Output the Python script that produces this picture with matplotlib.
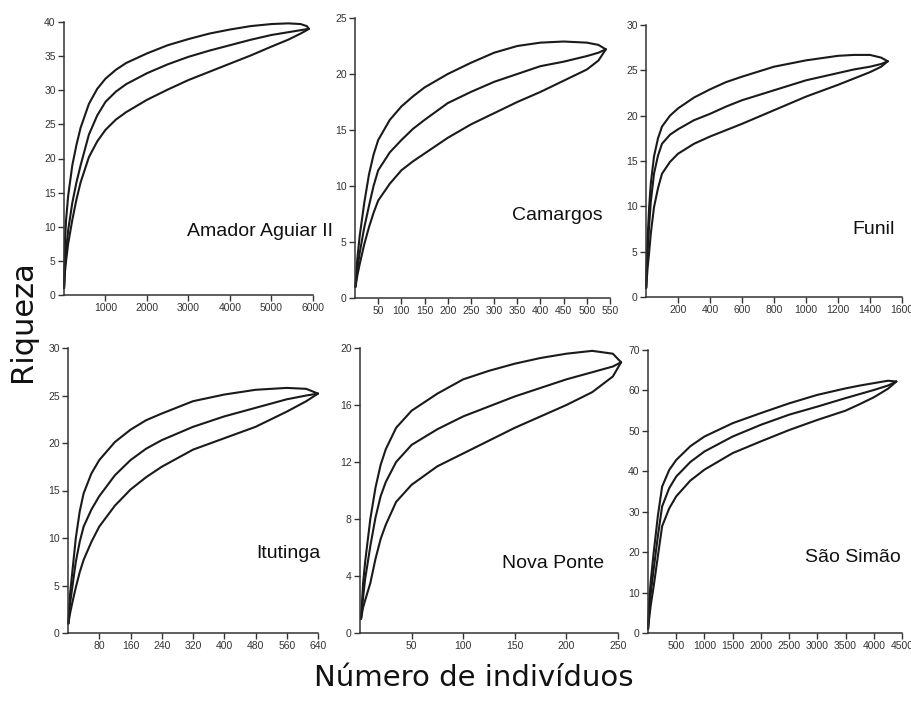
import matplotlib
matplotlib.use("Agg")
import matplotlib.pyplot as plt
from matplotlib import font_manager

# ---------------- data ----------------
names = ["Amador Aguiar II", "Camargos", "Funil", "Itutinga", "Nova Ponte", "São Simão"]

# Amador Aguiar II
aa_x = [1, 25, 50, 100, 200, 300, 400, 600, 800, 1000, 1250, 1500, 2000, 2500,
        3000, 3500, 4000, 4500, 5000, 5400, 5700, 5850, 5900]
aa_upper = [1, 8, 11, 14.5, 19, 22, 24.5, 28, 30.2, 31.7, 33.0, 34.0, 35.4, 36.6,
            37.5, 38.3, 38.9, 39.4, 39.7, 39.8, 39.7, 39.4, 39.0]
aa_mean = [1, 4.5, 6.5, 9.5, 13.5, 16.5, 19, 23.5, 26.3, 28.3, 29.8, 30.9, 32.5, 33.8,
           34.9, 35.8, 36.6, 37.4, 38.1, 38.5, 38.8, 38.95, 39.0]
aa_lower = [1, 3.5, 5, 7.5, 11, 14, 16.5, 20.2, 22.5, 24.2, 25.7, 26.8, 28.6, 30.1,
            31.5, 32.7, 33.9, 35.1, 36.4, 37.4, 38.3, 38.8, 39.0]

# Camargos
ca_x = [1, 5, 10, 20, 30, 40, 50, 75, 100, 125, 150, 200, 250, 300, 350, 400,
        450, 500, 525, 541]
ca_upper = [1, 3.5, 5.5, 8.5, 11, 12.8, 14.1, 15.9, 17.1, 18.0, 18.8, 20.0, 21.0,
            21.9, 22.5, 22.8, 22.9, 22.8, 22.6, 22.2]
ca_mean = [1, 2.5, 4, 6.3, 8.2, 10, 11.4, 13, 14.1, 15.1, 15.9, 17.4, 18.4, 19.3,
           20.0, 20.7, 21.1, 21.6, 21.9, 22.2]
ca_lower = [1, 2, 3, 4.8, 6.3, 7.6, 8.7, 10.2, 11.4, 12.2, 12.9, 14.3, 15.5, 16.5,
            17.5, 18.4, 19.4, 20.4, 21.2, 22.2]

# Funil
fu_x = [1, 5, 10, 20, 30, 50, 75, 100, 150, 200, 300, 400, 500, 600, 800, 1000,
        1200, 1300, 1400, 1470, 1511]
fu_upper = [1, 4, 6.5, 10, 12.5, 15.5, 17.5, 18.8, 20, 20.8, 22, 22.9, 23.7, 24.3,
            25.4, 26.1, 26.6, 26.7, 26.7, 26.4, 26.0]
fu_mean = [1, 3, 5, 8, 10.5, 13.6, 15.6, 16.9, 17.9, 18.5, 19.5, 20.2, 21.0, 21.7,
           22.8, 23.9, 24.7, 25.1, 25.4, 25.7, 26.0]
fu_lower = [1, 2, 3.2, 5, 7, 9.9, 12, 13.6, 14.9, 15.8, 16.9, 17.7, 18.4, 19.1,
            20.6, 22.1, 23.4, 24.1, 24.8, 25.4, 26.0]

# Itutinga
it_x = [1, 5, 10, 20, 30, 40, 60, 80, 120, 160, 200, 240, 320, 400, 480, 560, 610, 640]
it_upper = [1, 4, 6, 10, 12.8, 14.7, 16.8, 18.2, 20.1, 21.4, 22.4, 23.1, 24.4, 25.1,
            25.6, 25.8, 25.7, 25.2]
it_mean = [1, 3, 4.5, 7.5, 9.6, 11.2, 13, 14.4, 16.6, 18.2, 19.4, 20.3, 21.7, 22.8,
           23.7, 24.6, 25.0, 25.2]
it_lower = [1, 2, 3, 4.8, 6.4, 7.7, 9.6, 11.2, 13.4, 15.1, 16.4, 17.5, 19.3, 20.5,
            21.7, 23.3, 24.4, 25.2]

# Nova Ponte
np_x = [1, 3, 5, 10, 15, 20, 25, 35, 50, 75, 100, 125, 150, 175, 200, 225, 245, 253]
np_upper = [1, 3.5, 5, 8, 10.2, 11.8, 12.9, 14.4, 15.6, 16.8, 17.8, 18.4, 18.9, 19.3,
            19.6, 19.8, 19.6, 19.0]
np_mean = [1, 2.5, 3.8, 6.1, 8.1, 9.6, 10.6, 12.0, 13.2, 14.3, 15.2, 15.9, 16.6, 17.2,
           17.8, 18.3, 18.7, 19.0]
np_lower = [1, 1.8, 2.3, 3.5, 5.2, 6.6, 7.6, 9.2, 10.4, 11.7, 12.6, 13.5, 14.4, 15.2,
            16.0, 16.9, 18.0, 19.0]

# São Simão
ss_x = [1, 20, 50, 100, 175, 250, 375, 500, 750, 1000, 1500, 2000, 2500, 3000,
        3500, 3750, 4000, 4250, 4400]
ss_upper = [1, 8, 13, 19.8, 29, 36.2, 40.3, 42.8, 46.2, 48.6, 51.9, 54.4, 56.8, 58.9,
            60.5, 61.2, 61.8, 62.4, 62.2]
ss_mean = [1, 5.5, 10, 15.7, 24, 31.3, 35.8, 38.7, 42.3, 44.9, 48.6, 51.5, 54.0, 56.0,
           58.1, 59.1, 60.1, 61.2, 62.2]
ss_lower = [1, 3.5, 7, 11.5, 19, 26.4, 30.8, 33.8, 37.7, 40.4, 44.5, 47.4, 50.2, 52.7,
            55.0, 56.6, 58.3, 60.4, 62.2]

xs = [aa_x, ca_x, fu_x, it_x, np_x, ss_x]
uppers = [aa_upper, ca_upper, fu_upper, it_upper, np_upper, ss_upper]
means = [aa_mean, ca_mean, fu_mean, it_mean, np_mean, ss_mean]
lowers = [aa_lower, ca_lower, fu_lower, it_lower, np_lower, ss_lower]

xticks = [
    [1000, 2000, 3000, 4000, 5000, 6000],
    [50, 100, 150, 200, 250, 300, 350, 400, 450, 500, 550],
    [200, 400, 600, 800, 1000, 1200, 1400, 1600],
    [80, 160, 240, 320, 400, 480, 560, 640],
    [50, 100, 150, 200, 250],
    [500, 1000, 1500, 2000, 2500, 3000, 3500, 4000, 4500],
]
yticks = [
    [0, 5, 10, 15, 20, 25, 30, 35, 40],
    [0, 5, 10, 15, 20, 25],
    [0, 5, 10, 15, 20, 25, 30],
    [0, 5, 10, 15, 20, 25, 30],
    [0, 4, 8, 12, 16, 20],
    [0, 10, 20, 30, 40, 50, 60, 70],
]
xlims = [6000, 550, 1600, 640, 250, 4500]
ylims = [40, 25, 30, 30, 20, 70]

# ---------------- layout ----------------
W, H = 912, 701
rects_px = [
    (64, 22, 313, 295),
    (355, 18, 610, 298),
    (646, 25, 902, 297),
    (68, 348, 318, 633),
    (360, 348, 618, 633),
    (648, 350, 902, 633),
]
label_pos_px = [(260, 231), (557, 215), (874, 229), (288, 553), (553, 563), (853, 557)]

avail = {f.name for f in font_manager.fontManager.ttflist}
tick_family = [f for f in ["Liberation Sans Narrow", "Liberation Sans", "DejaVu Sans"] if f in avail] or ["DejaVu Sans"]
lab_family = [f for f in ["Liberation Sans Narrow", "Liberation Sans", "DejaVu Sans"] if f in avail] or ["DejaVu Sans"]
lab_size = 16.5 if lab_family[0] == "Liberation Sans Narrow" else 14

fig = plt.figure(figsize=(W / 100, H / 100), dpi=100)
fig.patch.set_facecolor("white")

for i in range(6):
    l, t, r, b = rects_px[i]
    ax = fig.add_axes([l / W, 1 - b / H, (r - l) / W, (b - t) / H])
    for arr in (uppers[i], means[i], lowers[i]):
        ax.plot(xs[i], arr, color="#1a1a1a", lw=1.5, clip_on=False,
                solid_joinstyle="round", solid_capstyle="round")
    ax.set_xlim(0, xlims[i])
    ax.set_ylim(0, ylims[i])
    ax.set_xticks(xticks[i])
    ax.set_yticks(yticks[i])
    ax.set_xticklabels([str(v) for v in xticks[i]], family=tick_family, fontsize=7.5)
    ax.set_yticklabels([str(v) for v in yticks[i]], family=tick_family, fontsize=7.5)
    ax.tick_params(direction="out", length=4, width=1, pad=2, colors="#333333")
    for s in ("top", "right"):
        ax.spines[s].set_visible(False)
    for s in ("left", "bottom"):
        ax.spines[s].set_linewidth(1.1)
        ax.spines[s].set_color("#333333")
    ax.patch.set_alpha(0)
    lx, ly = label_pos_px[i]
    fig.text(lx / W, 1 - ly / H, names[i], ha="center", va="center",
             family=lab_family, fontsize=lab_size, color="#111111")

fig.text(23 / W, 1 - 321 / H, "Riqueza", rotation=90, ha="center", va="center",
         family=["DejaVu Sans"], fontsize=22, color="#111111")
fig.text(474 / W, 1 - 678 / H, "Número de indivíduos", ha="center", va="center",
         family=["DejaVu Sans"], fontsize=21, color="#111111")

fig.savefig("out.png", dpi=100, facecolor="white")
